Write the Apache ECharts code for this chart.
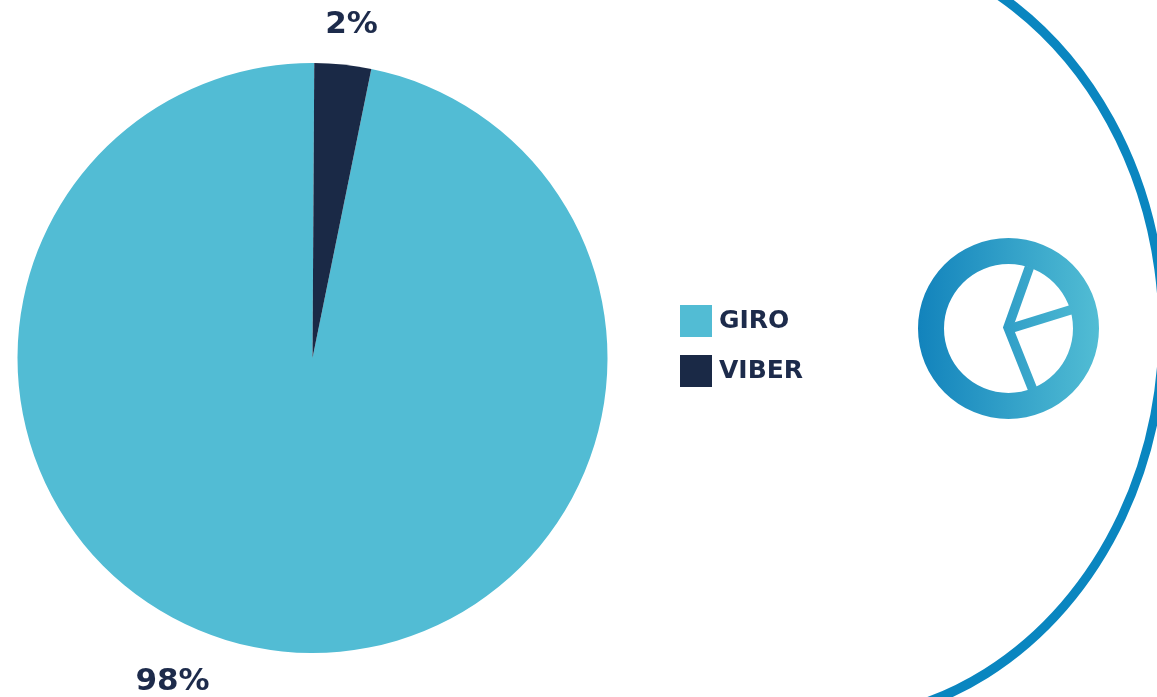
<!DOCTYPE html>
<html>
<head>
<meta charset="utf-8">
<style>html,body{margin:0;padding:0;background:#fff;overflow:hidden}#c{width:1157px;height:697px}</style>
<script src="https://cdn.jsdelivr.net/npm/echarts@6/dist/echarts.min.js"></script>
</head>
<body>
<div id="c"></div>
<script>
const categories = ['GIRO', 'VIBER'];
const sliceValues = [96.9, 3.1];
const valueLabels = ['98%', '2%'];
const sliceColors = ['#52bcd4', '#1a2946'];
const labelAnchors = [[172.5, 682], [351.5, 25]];

const FONT = '"DejaVu Sans", sans-serif';
const TEXT = '#1d2b4b';
const grad = {type:'linear', x:918, y:0, x2:1099, y2:0, global:true,
  colorStops:[{offset:0,color:'#1283bc'},{offset:1,color:'#52bdd4'}]};

const chart = echarts.init(document.getElementById('c'), null, {renderer:'canvas'});
chart.setOption({
  animation:false,
  backgroundColor:'#fff',
  legend:{
    left:680, top:305, orient:'vertical', itemWidth:32, itemHeight:32, itemGap:18,
    icon:'rect', selectedMode:false, padding:0,
    data:categories,
    textStyle:{color:TEXT, fontFamily:FONT, fontWeight:'bold', fontSize:25, padding:[0,0,0,2]}
  },
  series:[{
    type:'pie', center:[312.5,358], radius:[0,295], startAngle:78.5, clockwise:true,
    silent:true,
    data:categories.map((n,i)=>({name:n,value:sliceValues[i],itemStyle:{color:sliceColors[i]}})),
    label:{show:true, position:'outside', color:TEXT, fontFamily:FONT, fontWeight:'bold', fontSize:31,
      formatter:p=>valueLabels[p.dataIndex]},
    labelLine:{show:false},
    labelLayout:p=>({x:labelAnchors[p.dataIndex][0], y:labelAnchors[p.dataIndex][1], align:'center', verticalAlign:'middle'})
  }],
  graphic:[
    {type:'arc', silent:true, x:825, y:330, scaleX:337.8/390.6, scaleY:1,
      shape:{cx:0,cy:0,r:390.6,startAngle:-1.35,endAngle:1.35,clockwise:true},
      style:{fill:'none',stroke:'#0a86c0',lineWidth:10,strokeNoScale:true}},
    {type:'ring', silent:true, shape:{cx:1008.5,cy:328.5,r:90.5,r0:64.5}, style:{fill:grad}},
    {type:'polyline', silent:true, shape:{points:[[1029.5,267],[1008,327.5],[1032.5,389]]}, style:{fill:'none',stroke:grad,lineWidth:9.5,lineJoin:'miter'}},
    {type:'line', silent:true, shape:{x1:1008,y1:329.3,x2:1071,y2:309.7}, style:{stroke:grad,lineWidth:9.5}}
  ]
});
</script>
</body>
</html>
